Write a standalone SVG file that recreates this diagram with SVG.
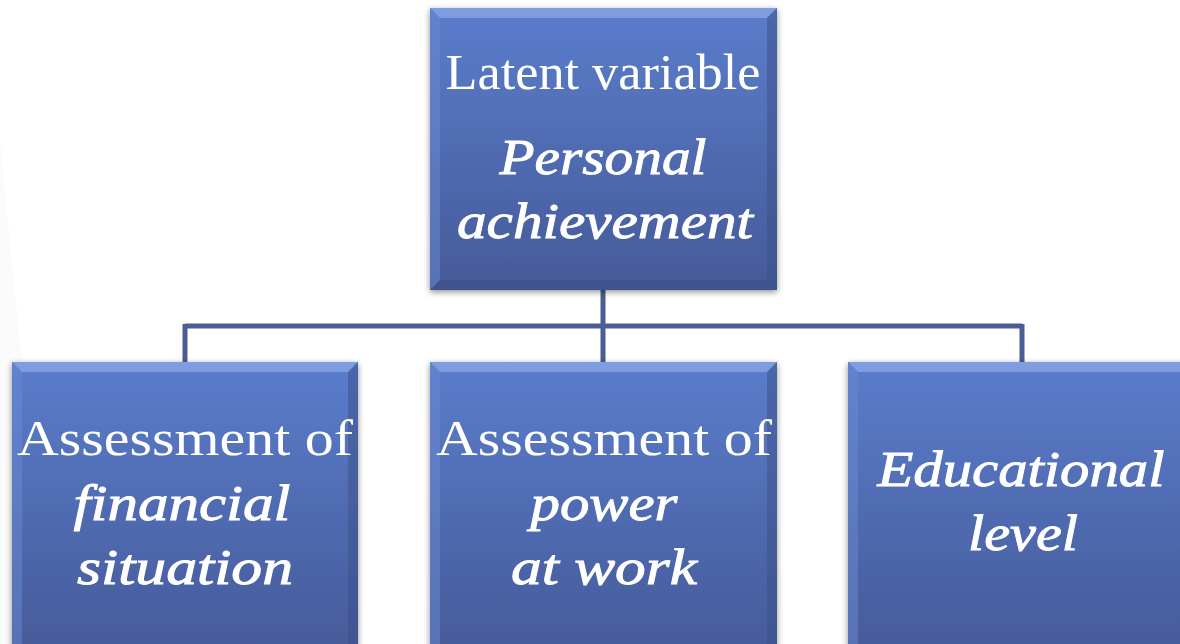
<svg xmlns="http://www.w3.org/2000/svg" width="1180" height="644" viewBox="0 0 1180 644">
  <defs>
    <linearGradient id="boxFill" x1="0" y1="0" x2="0" y2="1">
      <stop offset="0" stop-color="#5a7dcc"/>
      <stop offset="1" stop-color="#465a98"/>
    </linearGradient>
    <filter id="shadow" x="-10%" y="-10%" width="120%" height="120%">
      <feDropShadow dx="0" dy="2" stdDeviation="3" flood-color="#000" flood-opacity="0.45"/>
    </filter>
  </defs>
  <style>
    .box { fill: url(#boxFill); }
    .bevTop { fill: #86a2e4; opacity: 0.85; }
    .bevLeft { fill: #6a89d2; opacity: 0.5; }
    .bevRight { fill: #3c4f88; opacity: 0.5; }
    .bevBot { fill: #3a4c84; opacity: 0.5; }
    .t { font-family: "Liberation Serif", "Times New Roman", serif; fill: #ffffff; font-size: 50px; text-anchor: middle; }
    .i { font-style: italic; stroke: #ffffff; stroke-width: 0.9; }
    .conn { stroke: #4a5e95; stroke-width: 5; fill: none; }
  </style>
  <rect x="0" y="0" width="1180" height="644" fill="#ffffff"/>
  <polygon points="0,140 0,644 50,644" fill="#fbfbfb"/>

  <g id="connectors">
    <path class="conn" d="M603,290 V326 M185,326 H1022 M185,324 V362 M603,326 V362 M1022,324 V362"/>
  </g>

  <g id="node-top" filter="url(#shadow)">
    <rect class="box" x="430" y="8" width="347" height="282"/>
    <polygon class="bevTop" points="430,8 777,8 767,18 440,18"/>
    <polygon class="bevLeft" points="430,8 440,18 440,280 430,290"/>
    <polygon class="bevRight" points="777,8 767,18 767,280 777,290"/>
    <polygon class="bevBot" points="430,290 440,280 767,280 777,290"/>
    <text class="t" x="603" y="89" textLength="315" lengthAdjust="spacingAndGlyphs">Latent variable</text>
    <text class="t i" x="603" y="174" textLength="207" lengthAdjust="spacingAndGlyphs">Personal</text>
    <text class="t i" x="605" y="238" textLength="296" lengthAdjust="spacingAndGlyphs">achievement</text>
  </g>

  <g id="node-financial" filter="url(#shadow)">
    <rect class="box" x="12" y="362" width="346" height="292"/>
    <polygon class="bevTop" points="12,362 358,362 348,372 22,372"/>
    <polygon class="bevLeft" points="12,362 22,372 22,654 12,654"/>
    <polygon class="bevRight" points="358,362 348,372 348,654 358,654"/>
    <text class="t" x="185" y="455" textLength="336" lengthAdjust="spacingAndGlyphs">Assessment of</text>
    <text class="t i" x="182" y="520" textLength="217" lengthAdjust="spacingAndGlyphs">financial</text>
    <text class="t i" x="185" y="584" textLength="216" lengthAdjust="spacingAndGlyphs">situation</text>
  </g>

  <g id="node-power" filter="url(#shadow)">
    <rect class="box" x="430" y="362" width="347" height="292"/>
    <polygon class="bevTop" points="430,362 777,362 767,372 440,372"/>
    <polygon class="bevLeft" points="430,362 440,372 440,654 430,654"/>
    <polygon class="bevRight" points="777,362 767,372 767,654 777,654"/>
    <text class="t" x="604" y="455" textLength="336" lengthAdjust="spacingAndGlyphs">Assessment of</text>
    <text class="t i" x="604" y="520" textLength="147" lengthAdjust="spacingAndGlyphs">power</text>
    <text class="t i" x="604" y="584" textLength="186" lengthAdjust="spacingAndGlyphs">at work</text>
  </g>

  <g id="node-education" filter="url(#shadow)">
    <rect class="box" x="848" y="362" width="342" height="292"/>
    <polygon class="bevTop" points="848,362 1190,362 1180,372 858,372"/>
    <polygon class="bevLeft" points="848,362 858,372 858,654 848,654"/>
    <text class="t i" x="1021" y="486" textLength="287" lengthAdjust="spacingAndGlyphs">Educational</text>
    <text class="t i" x="1023" y="550" textLength="110" lengthAdjust="spacingAndGlyphs">level</text>
  </g>
</svg>
